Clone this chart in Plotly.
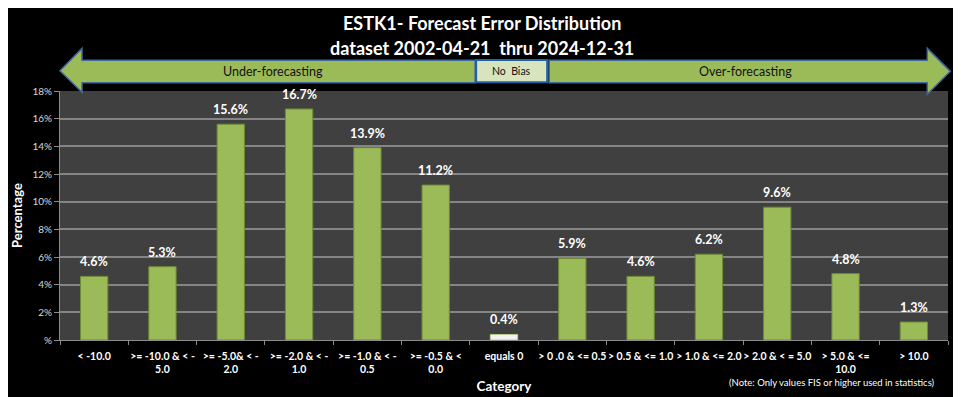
import plotly.graph_objects as go

categories = ["< -10.0", ">= -10.0 & < -<br>5.0", ">= -5.0& < -<br>2.0", ">= -2.0 & < -<br>1.0",
              ">= -1.0 & < -<br>0.5", ">= -0.5 & <<br>0.0", "equals 0", "> 0 .0 & <= 0.5",
              "> 0.5 & <= 1.0", "> 1.0 & <= 2.0", "> 2.0 & < = 5.0", "> 5.0 & <=<br>10.0", "> 10.0"]
percent = [4.6, 5.3, 15.6, 16.7, 13.9, 11.2, 0.4, 5.9, 4.6, 6.2, 9.6, 4.8, 1.3]
ytick_vals = [0, 2, 4, 6, 8, 10, 12, 14, 16, 18]
ytick_text = ["%", "2%", "4%", "6%", "8%", "10%", "12%", "14%", "16%", "18%"]

W, H = 961, 397
OFF = 8  # default page body margin
L, R, T, B = 60, 947.7, 90.7, 340.3
FONT = "Lato"


def px(x):
    return (x - L) / (R - L)


def py(y):
    return (B - y) / (B - T)


def path(points):
    return "M " + " L ".join(f"{px(x):.5f},{py(y):.5f}" for x, y in points) + " Z"


colors = ["#F2F2F2" if c == "equals 0" else "#9BBB59" for c in categories]
lines = ["#B8C98F" if c == "equals 0" else "#6E8B35" for c in categories]

fig = go.Figure(go.Bar(
    x=categories, y=percent,
    marker=dict(color=colors, line=dict(color=lines, width=1)),
    width=0.4,
))

shapes = [
    dict(type="path", xref="paper", yref="paper",
         path=path([(60, 70.5), (82, 48), (82, 60), (475, 60), (475, 82.5), (82, 82.5), (82, 92)]),
         fillcolor="#9BBB59", line=dict(color="#41699A", width=1.5), layer="above"),
    dict(type="path", xref="paper", yref="paper",
         path=path([(549, 60), (927, 60), (927, 48), (950, 71), (927, 94), (927, 82.5), (549, 82.5)]),
         fillcolor="#9BBB59", line=dict(color="#41699A", width=1.5), layer="above"),
    dict(type="rect", xref="paper", yref="paper",
         x0=px(476), x1=px(547), y0=py(82), y1=py(59.5),
         fillcolor="#D7E4BD", line=dict(color="#1F62A8", width=2), layer="above"),
]

annotations = [
    dict(text="<b>ESTK1- Forecast Error Distribution</b>", x=px(482), y=py(22.5), xref="paper", yref="paper",
         showarrow=False, font=dict(family=FONT, size=18, color="white"), xanchor="center", yanchor="middle"),
    dict(text="<b>dataset 2002-04-21  thru 2024-12-31</b>", x=px(482), y=py(47.5), xref="paper", yref="paper",
         showarrow=False, font=dict(family=FONT, size=18, color="white"), xanchor="center", yanchor="middle"),
    dict(text="Under-forecasting", x=px(273), y=py(71), xref="paper", yref="paper",
         xanchor="center", yanchor="middle",
         showarrow=False, font=dict(family=FONT, size=12.5, color="#111111")),
    dict(text="No  Bias", x=px(511.5), y=py(71), xref="paper", yref="paper",
         xanchor="center", yanchor="middle",
         showarrow=False, font=dict(family=FONT, size=10.5, color="#111111")),
    dict(text="Over-forecasting", x=px(745), y=py(71), xref="paper", yref="paper",
         xanchor="center", yanchor="middle",
         showarrow=False, font=dict(family=FONT, size=12.5, color="#111111")),
    dict(text="(Note: Only values FIS or higher used in statistics)", x=px(937), y=py(383), xref="paper",
         yref="paper", xanchor="right", yanchor="middle", showarrow=False,
         font=dict(family=FONT, size=9.5, color="white")),
]

# value labels above bars
for c, v in zip(categories, percent):
    annotations.append(dict(
        x=c, y=v, xref="x", yref="y", text=f"<b>{v:.1f}%</b>", showarrow=False,
        xanchor="center", yanchor="bottom", yshift=5,
        font=dict(family=FONT, size=12.5, color="white"),
    ))

fig.update_layout(
    width=W - OFF, height=H - OFF,
    margin=dict(l=L - OFF, r=W - R, t=T - OFF, b=H - B, pad=0, autoexpand=False),
    paper_bgcolor="black", plot_bgcolor="#404040",
    showlegend=False,
    shapes=shapes, annotations=annotations,
    font=dict(family=FONT, color="white"),
    bargap=0.6,
    xaxis=dict(
        type="category", showgrid=False, showline=True, linecolor="#8C8C8C", linewidth=1,
        ticks="outside", tickson="boundaries", ticklen=4, tickcolor="#8C8C8C",
        ticklabelstandoff=6,
        tickfont=dict(family=FONT, size=10.5, color="white", weight="bold"), tickangle=0,
        title=dict(text="<b>Category</b>", font=dict(family=FONT, size=13.5, color="white"), standoff=7),
        fixedrange=True, automargin=False,
    ),
    yaxis=dict(
        range=[0, 18], tickvals=ytick_vals, ticktext=ytick_text,
        showgrid=True, gridcolor="#858585", gridwidth=1.5,
        showline=True, linecolor="#8C8C8C", linewidth=1,
        ticks="outside", ticklen=5, tickcolor="#8C8C8C",
        tickfont=dict(family=FONT, size=10, color="#D9D9D9"),
        title=dict(text="<b>Percentage</b>", font=dict(family=FONT, size=13, color="white"), standoff=6),
        zeroline=False, fixedrange=True, automargin=False,
    ),
)

fig.write_html("out.html")
